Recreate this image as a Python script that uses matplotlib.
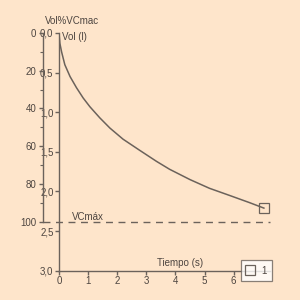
import matplotlib
matplotlib.use("Agg")
import matplotlib.pyplot as plt
from matplotlib.lines import Line2D
from matplotlib.ticker import FuncFormatter

plt.rcParams['font.family'] = ['Liberation Sans Narrow', 'Liberation Sans', 'DejaVu Sans']

# Data
time_s = [0.0, 0.03, 0.09, 0.2, 0.38, 0.6, 0.83, 1.06, 1.4, 1.75, 2.2,
          2.77, 3.35, 3.8, 4.5, 5.17, 5.86, 6.54, 7.04]
volume_l = [0.0, 0.13, 0.24, 0.40, 0.55, 0.69, 0.82, 0.93, 1.07, 1.20, 1.34,
            1.48, 1.62, 1.72, 1.85, 1.96, 2.05, 2.14, 2.21]
vc_max = 2.38
x_ticks = [0, 1, 2, 3, 4, 5, 6]
vol_ticks = [0.0, 0.5, 1.0, 1.5, 2.0, 2.5, 3.0]
pct_ticks = [0, 20, 40, 60, 80, 100]
pct_minor = [10, 30, 50, 70, 90]

bg = '#FEE5CB'
lc = '#6b625b'
tc = '#4d4540'
fs = 7

fig = plt.figure(figsize=(3, 3), dpi=100, facecolor=bg)

# main axes (volume vs time)
ax = fig.add_axes([59/300, 1-270.7/300, 211/300, (270.7-33)/300])
ax.set_facecolor('none')
ax.set_xlim(0, 7.25)
ax.set_ylim(3.0, 0.0)
for s in ['top', 'right']:
    ax.spines[s].set_visible(False)
for s in ['left', 'bottom']:
    ax.spines[s].set_color(lc)
    ax.spines[s].set_linewidth(1.0)
ax.set_xticks(x_ticks)
ax.set_yticks(vol_ticks)
ax.yaxis.set_major_formatter(FuncFormatter(lambda v, p: f"{v:.1f}".replace('.', ',')))
ax.tick_params(axis='both', colors=lc, labelcolor=tc, labelsize=fs, length=3, width=1.0, pad=1.0)

ax.plot(time_s, volume_l, color=lc, lw=1.1)
ax.plot(time_s[-1:], volume_l[-1:], marker='s', ms=6.5, mfc='none', mec=lc, mew=0.9, ls='none', clip_on=False)
ax.axhline(vc_max, xmin=-0.076, xmax=1.0, color=lc, lw=1.0, ls=(0, (5, 4)), clip_on=False)

# percent axis
ax2 = fig.add_axes([42.7/300, 1-221.7/300, 0.0001, (221.7-33)/300])
ax2.set_facecolor('none')
ax2.set_ylim(100, 0)
ax2.set_xticks([])
for s in ['top', 'right', 'bottom']:
    ax2.spines[s].set_visible(False)
ax2.spines['left'].set_color(lc)
ax2.spines['left'].set_linewidth(1.0)
ax2.set_yticks(pct_ticks)
ax2.set_yticks(pct_minor, minor=True)
ax2.tick_params(axis='y', which='major', colors=lc, labelcolor=tc, labelsize=fs, length=3, width=1.0, pad=1.5)
ax2.tick_params(axis='y', which='minor', colors=lc, length=2, width=0.8)

# texts
fig.text(45/300, 1-21/300, 'Vol%VCmac', fontsize=fs, color=tc, ha='left', va='center')
fig.text(62/300, 1-37/300, 'Vol (l)', fontsize=fs, color=tc, ha='left', va='center')
fig.text(72/300, 1-216.5/300, 'VCmáx', fontsize=fs, color=tc, ha='left', va='center')
fig.text(157/300, 1-262.5/300, 'Tiempo (s)', fontsize=fs, color=tc, ha='left', va='center')

# legend
h = Line2D([], [], marker='s', ms=6.5, mfc='none', mec=lc, mew=0.9, ls='none')
leg = fig.legend([h], ['1'], loc='center', bbox_to_anchor=(256.5/300, 1-270.5/300),
                 bbox_transform=fig.transFigure, fontsize=fs, frameon=True, fancybox=False,
                 handlelength=0.8, handletextpad=0.8, borderpad=0.55, borderaxespad=0)
leg.get_frame().set_facecolor('white')
leg.get_frame().set_edgecolor(lc)
leg.get_frame().set_linewidth(0.9)
for t in leg.get_texts():
    t.set_color(tc)

fig.savefig('out.png', dpi=100, facecolor=bg)
